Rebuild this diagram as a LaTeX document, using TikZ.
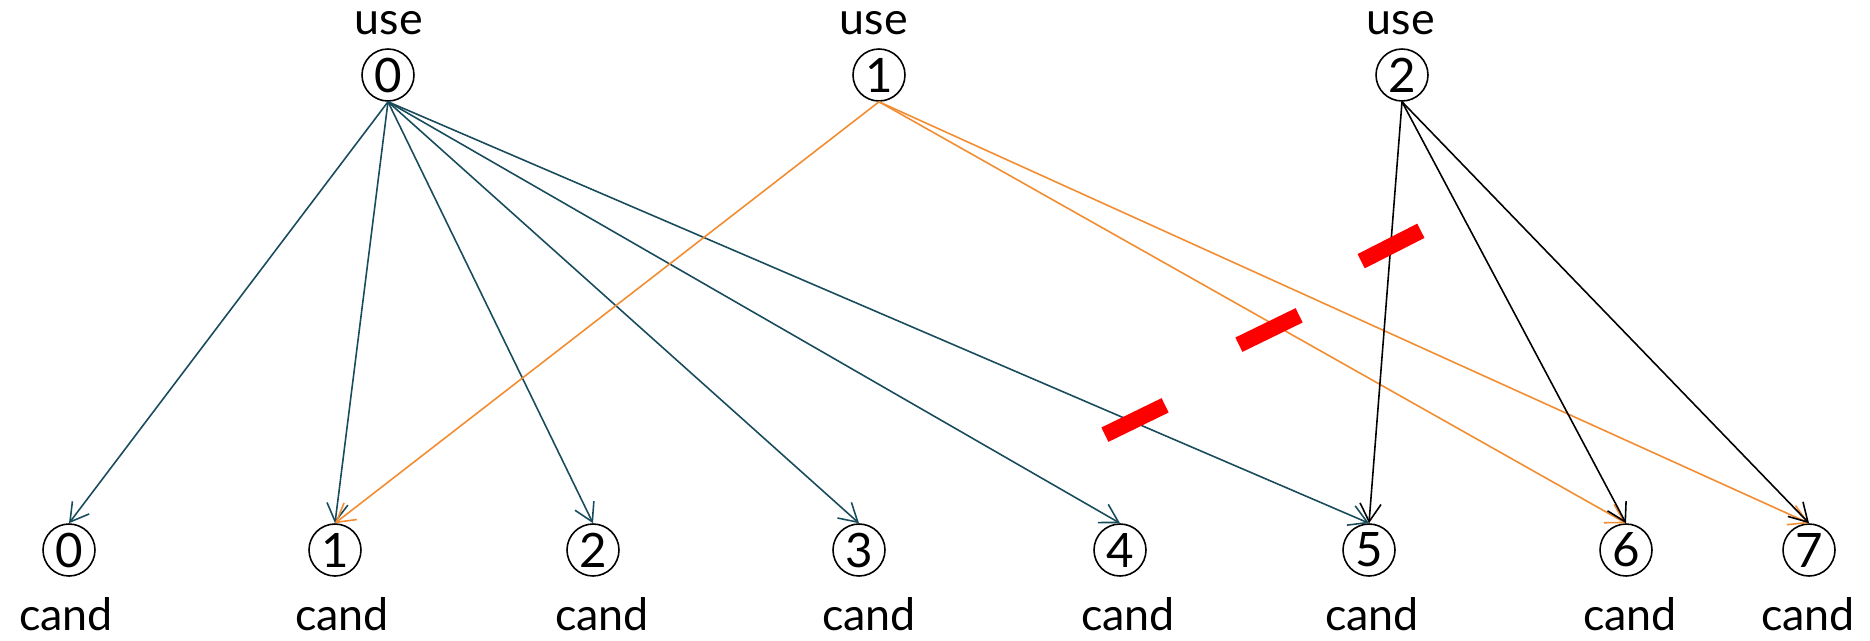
\documentclass[tikz,border=0pt]{standalone}
\usepackage{fontspec}
\setmainfont{Lato}
\usetikzlibrary{arrows.meta}
\definecolor{tealline}{RGB}{24,76,92}
\definecolor{orangeline}{RGB}{242,140,48}
\definecolor{cutred}{RGB}{255,0,0}
\tikzset{
  num/.style={circle, draw=black, line width=0.9pt, minimum size=1.04cm, inner sep=0pt,
              font=\fontsize{27}{27}\selectfont},
  lbl/.style={inner sep=0pt, font=\fontsize{25.5}{25.5}\selectfont},
  link/.style={line width=0.9pt, -{Straight Barb[length=0.36cm, width=0.42cm, line width=0.9pt]}},
  tealedge/.style={link, draw=tealline},
  orangeedge/.style={link, draw=orangeline},
  blackedge/.style={link, draw=black},
  cut/.style={fill=cutred, draw=none, minimum width=1.34cm, minimum height=0.32cm, inner sep=0pt},
}
\begin{document}
\begin{tikzpicture}[x=0.02cm, y=-0.02cm]
  \useasboundingbox (0,0) rectangle (1870,640);

  % producers along the top
  \node[num] (u0) at (388,75) {0};
  \node[num] (u1) at (879,75) {1};
  \node[num] (u2) at (1402,75) {2};
  \node[lbl] (lu0) at (389,23) {use};
  \node[lbl] (lu1) at (874,23) {use};
  \node[lbl] (lu2) at (1401,23) {use};

  % candidates along the bottom
  \foreach \i/\x in {0/69, 1/335, 2/593, 3/859, 4/1120, 5/1369, 6/1626, 7/1809} {
    \node[num] (c\i) at (\x,550) {\i};
  }
  \foreach \i/\x in {0/66, 1/342, 2/602, 3/869, 4/1128, 5/1372, 6/1630, 7/1808} {
    \node[lbl] (lc\i) at (\x,614) {cand};
  }

  % edges from use 0
  \foreach \j in {0,...,5} {
    \draw[tealedge] (u0.south) -- (c\j.north);
  }
  % edges from use 1
  \foreach \j in {1,6,7} {
    \draw[orangeedge] (u1.south) -- (c\j.north);
  }
  % edges from use 2
  \foreach \j in {5,6,7} {
    \draw[blackedge] (u2.south) -- (c\j.north);
  }

  % cut marks
  \node[cut, rotate=26] (cut1) at (1135,420) {};
  \node[cut, rotate=26] (cut2) at (1269,330) {};
  \node[cut, rotate=27] (cut3) at (1391,246) {};
\end{tikzpicture}
\end{document}
